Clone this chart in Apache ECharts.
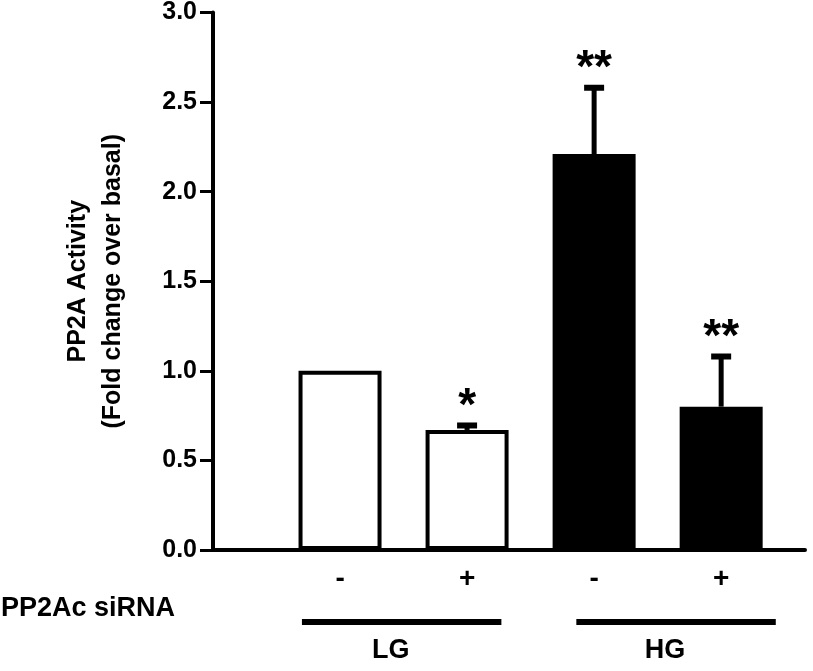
<!DOCTYPE html>
<html>
<head>
<meta charset="utf-8">
<script src="https://cdn.jsdelivr.net/npm/echarts@6/dist/echarts.min.js"></script>
<style>
html,body{margin:0;padding:0;background:#fff;}
#chart{width:813px;height:671px;}
</style>
</head>
<body>
<div id="chart"></div>
<script>
// ---- data ----
const slots = [1, 2, 3, 4];                 // x positions of the four conditions
const siRNA = ['-', '+', '-', '+'];         // PP2Ac siRNA treatment
const groupOf = ['LG', 'LG', 'HG', 'HG'];   // glucose condition
const means = [1.00, 0.67, 2.21, 0.80];     // PP2A activity (fold over basal)
const sems = [0, 0.025, 0.37, 0.28];        // upper error bar
const marks = ['', '*', '**', '**'];        // significance
const groupNames = ['LG', 'HG'];
const groupFrom = [0.70, 2.86];
const groupTo = [2.27, 4.43];
const yTicks = [0, 0.5, 1.0, 1.5, 2.0, 2.5, 3.0];

const FONT = '"Liberation Sans", Arial, sans-serif';

const chart = echarts.init(document.getElementById('chart'), null, {renderer: 'canvas'});

const barData = slots.map((x, i) => ({
  value: [x, means[i]],
  itemStyle: groupOf[i] === 'LG'
    ? {color: '#ffffff', borderColor: '#000', borderWidth: 4}
    : {color: '#000000', borderColor: '#000', borderWidth: 4}
}));

const errData = slots.map((x, i) => [x, means[i], sems[i]]);
const groupData = groupNames.map((g, i) => [groupFrom[i], groupTo[i]]);

const option = {
  animation: false,
  backgroundColor: '#fff',
  grid: {left: 213, right: 8, top: 12, bottom: 121, containLabel: false},
  xAxis: {
    type: 'value', min: 0, max: 4.66, interval: 1,
    axisLine: {show: true, lineStyle: {color: '#000', width: 4}},
    axisTick: {show: false},
    splitLine: {show: false},
    axisLabel: {
      show: true, margin: 15, color: '#000', fontFamily: FONT, fontWeight: 'bold', fontSize: 28,
      formatter: v => { const k = slots.indexOf(Math.round(v)); return (k >= 0 && Math.abs(v - slots[k]) < 1e-6) ? siRNA[k] : ''; }
    }
  },
  yAxis: {
    type: 'value', min: 0, max: 3, interval: 0.5,
    axisLine: {show: true, lineStyle: {color: '#000', width: 4}},
    axisTick: {show: true, inside: false, length: 13, lineStyle: {color: '#000', width: 3}},
    splitLine: {show: false},
    axisLabel: {
      margin: 16, color: '#000', fontFamily: FONT, fontWeight: 'bold', fontSize: 25,
      formatter: v => v.toFixed(1)
    },
    name: 'PP2A Activity\n(Fold change over basal)',
    nameLocation: 'middle',
    nameGap: 82,
    nameTextStyle: {color: '#000', fontFamily: FONT, fontWeight: 'bold', fontSize: 25, lineHeight: 35}
  },
  graphic: [
    {type: 'text', left: 1, top: 595,
     style: {text: 'PP2Ac siRNA', fill: '#000', font: 'bold 27px ' + FONT}}
  ],
  series: [
    {
      type: 'bar', data: barData, barWidth: 83, z: 2
    },
    {
      type: 'custom', z: 3, clip: false,
      data: errData,
      renderItem: function (params, api) {
        const x = api.value(0), m = api.value(1), s = api.value(2);
        const i = params.dataIndex;
        const children = [];
        const base = api.coord([x, m]);
        const top = api.coord([x, m + s]);
        if (s > 0) {
          children.push({type: 'line', shape: {x1: top[0], y1: base[1], x2: top[0], y2: top[1]},
            style: {stroke: '#000', lineWidth: 5}});
          children.push({type: 'line', shape: {x1: top[0] - 10, y1: top[1], x2: top[0] + 10, y2: top[1]},
            style: {stroke: '#000', lineWidth: 6}});
        }
        if (marks[i]) {
          children.push({type: 'text', x: top[0], y: top[1] - 18,
            style: {text: marks[i], fill: '#000', font: 'bold 46px ' + FONT, textAlign: 'center', textVerticalAlign: 'middle'}});
        }
        return {type: 'group', children: children};
      }
    },
    {
      type: 'custom', z: 3, clip: false,
      data: groupData,
      renderItem: function (params, api) {
        const a = api.coord([api.value(0), 0]);
        const b = api.coord([api.value(1), 0]);
        const y = a[1] + 72;
        const mid = (a[0] + b[0]) / 2;
        return {type: 'group', children: [
          {type: 'line', shape: {x1: a[0], y1: y, x2: b[0], y2: y}, style: {stroke: '#000', lineWidth: 6}},
          {type: 'text', x: mid - 11, y: y + 29,
           style: {text: groupNames[params.dataIndex], fill: '#000', font: 'bold 27px ' + FONT, textAlign: 'center', textVerticalAlign: 'middle'}}
        ]};
      }
    }
  ]
};
chart.setOption(option);
</script>
</body>
</html>
